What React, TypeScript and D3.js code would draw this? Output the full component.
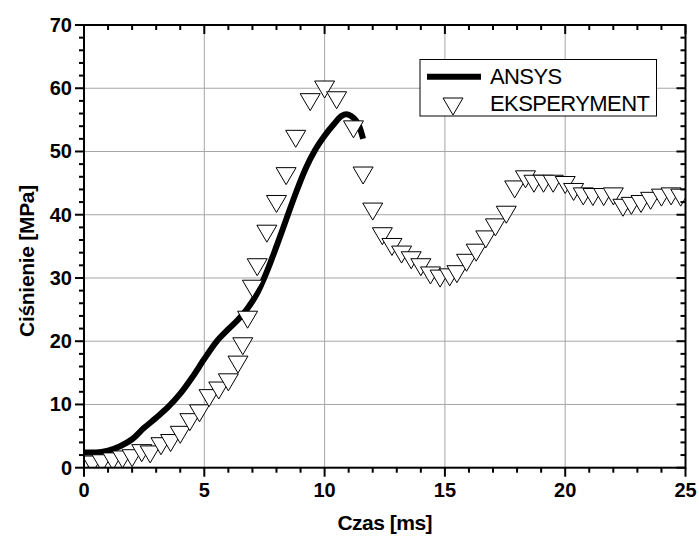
import React from "react";
import * as d3 from "d3";

// time [ms] and pressure [MPa]
const ansysTime = [0, 0.5, 1.0, 1.5, 2.0, 2.5, 3.0, 3.5, 4.0, 4.5, 5.0, 5.5, 6.0, 6.4, 6.8, 7.2, 7.6, 8.0, 8.4, 8.8, 9.2, 9.6, 10.0, 10.4, 10.7, 10.9, 11.1, 11.3, 11.45, 11.6];
const ansysPressure = [2.4, 2.4, 2.7, 3.4, 4.5, 6.3, 7.9, 9.6, 11.7, 14.3, 17.2, 19.9, 21.9, 23.4, 25.2, 27.6, 31.0, 35.0, 39.2, 43.4, 47.2, 50.2, 52.5, 54.4, 55.6, 55.9, 55.6, 54.9, 53.9, 52.0];

const expTime = [0.0, 0.35, 0.75, 1.2, 1.6, 2.0, 2.4, 2.75, 3.2, 3.6, 4.0, 4.4, 4.8, 5.2, 5.6, 6.0, 6.4, 6.6, 6.8, 7.0, 7.2, 7.6, 8.0, 8.4, 8.8, 9.4, 10.0, 10.5, 11.2, 11.6, 12.0, 12.4, 12.8, 13.2, 13.6, 14.0, 14.4, 14.8, 15.2, 15.5, 15.9, 16.3, 16.7, 17.1, 17.55, 17.9, 18.35, 18.7, 19.1, 19.5, 20.0, 20.35, 20.75, 21.15, 21.6, 22.0, 22.4, 22.75, 23.15, 23.55, 24.0, 24.4, 24.8];
const expPressure = [0.4, 0.5, 0.7, 1.0, 1.3, 1.5, 2.3, 2.1, 3.4, 3.9, 5.2, 7.2, 8.6, 11.0, 12.2, 13.5, 16.3, 19.2, 23.4, 28.3, 31.7, 37.0, 41.7, 46.1, 52.0, 57.8, 59.8, 58.1, 53.5, 46.2, 40.5, 36.6, 34.9, 33.7, 32.8, 31.7, 30.4, 29.9, 30.1, 30.6, 32.4, 34.0, 36.1, 38.0, 40.0, 44.0, 45.6, 44.9, 44.9, 44.9, 44.7, 43.6, 42.9, 42.8, 42.8, 42.9, 41.1, 41.4, 41.7, 42.2, 42.7, 42.9, 42.7];

const xTicks = [0, 5, 10, 15, 20, 25];
const yTicks = [0, 10, 20, 30, 40, 50, 60, 70];
const legendLabels = ["ANSYS", "EKSPERYMENT"];

const W = 699;
const H = 536;
const left = 84;
const right = 685.5;
const top = 25;
const bottom = 467.7;
const font = "'Liberation Sans', Arial, sans-serif";

// inverted triangle marker centred on (x, y)
const tri = (x: number, y: number) =>
  `M${x - 10},${y - 8.5}L${x + 10},${y - 8.5}L${x},${y + 8.5}Z`;

export default function App() {
  const x = d3.scaleLinear().domain([0, 25]).range([left, right]);
  const y = d3.scaleLinear().domain([0, 70]).range([bottom, top]);

  const line = d3
    .line<number>()
    .x((_, i) => x(ansysTime[i]))
    .y((d) => y(d))
    .curve(d3.curveMonotoneX);

  const xMinor = d3.range(0, 26, 1).filter((v) => v % 5 !== 0);
  const yMinor = d3.range(0, 71, 2).filter((v) => v % 10 !== 0);

  return (
    <svg width={W} height={H} style={{ position: "absolute", left: 0, top: 0 }} fontFamily={font}>
      <rect width={W} height={H} fill="#fff" />
      <defs>
        <clipPath id="plot">
          <rect x={left} y={top} width={right - left} height={bottom - top} />
        </clipPath>
      </defs>

      {/* grid */}
      <g stroke="#a6a6a6" strokeWidth={1}>
        {xTicks.slice(1, -1).map((t) => (
          <line key={"gx" + t} x1={x(t)} x2={x(t)} y1={top} y2={bottom} />
        ))}
        {yTicks.slice(1, -1).map((t) => (
          <line key={"gy" + t} x1={left} x2={right} y1={y(t)} y2={y(t)} />
        ))}
      </g>

      {/* data */}
      <g clipPath="url(#plot)">
        <path d={line(ansysPressure) || ""} fill="none" stroke="#000" strokeWidth={6} strokeLinejoin="round" />
        {expPressure.map((p, i) => (
          <path key={i} d={tri(x(expTime[i]), y(p))} fill="#fff" stroke="#000" strokeWidth={1} />
        ))}
      </g>

      {/* ticks */}
      <g stroke="#000" strokeWidth={2}>
        {xTicks.map((t) => (
          <g key={"xt" + t}>
            <line x1={x(t)} x2={x(t)} y1={bottom} y2={bottom + 9} />
            <line x1={x(t)} x2={x(t)} y1={top} y2={top + 9} />
          </g>
        ))}
        {xMinor.map((t) => (
          <g key={"xm" + t}>
            <line x1={x(t)} x2={x(t)} y1={bottom} y2={bottom + 5} />
            <line x1={x(t)} x2={x(t)} y1={top} y2={top + 5} />
          </g>
        ))}
        {yTicks.map((t) => (
          <g key={"yt" + t}>
            <line x1={left - 9} x2={left} y1={y(t)} y2={y(t)} />
            <line x1={right - 9} x2={right} y1={y(t)} y2={y(t)} />
          </g>
        ))}
        {yMinor.map((t) => (
          <g key={"ym" + t}>
            <line x1={left - 5} x2={left} y1={y(t)} y2={y(t)} />
            <line x1={right - 5} x2={right} y1={y(t)} y2={y(t)} />
          </g>
        ))}
      </g>

      {/* frame */}
      <rect x={left} y={top} width={right - left} height={bottom - top} fill="none" stroke="#000" strokeWidth={2} />

      {/* tick labels */}
      <g fontSize={20} fontWeight="bold" fill="#000">
        {xTicks.map((t) => (
          <text key={"xl" + t} x={x(t)} y={497} textAnchor="middle">
            {t}
          </text>
        ))}
        {yTicks.map((t) => (
          <text key={"yl" + t} x={72} y={y(t) + 7} textAnchor="end">
            {t}
          </text>
        ))}
      </g>

      {/* axis titles */}
      <text x={(left + right) / 2} y={530} textAnchor="middle" fontSize={21} fontWeight="bold" letterSpacing={-0.5}>
        Czas [ms]
      </text>
      <text
        transform="translate(34,261) rotate(-90)"
        textAnchor="middle"
        fontSize={21}
        fontWeight="bold"
        letterSpacing={-0.3}
      >
        Ciśnienie [MPa]
      </text>

      {/* legend */}
      <g>
        <rect x={420} y={59.5} width={236.5} height={56.5} fill="#fff" stroke="#000" strokeWidth={1} />
        <line x1={427} x2={481} y1={76.7} y2={76.7} stroke="#000" strokeWidth={6} />
        <path d={tri(453, 106.5)} fill="#fff" stroke="#000" strokeWidth={1} />
        <text x={490} y={83.5} fontSize={22} letterSpacing={-0.6}>
          {legendLabels[0]}
        </text>
        <text x={490} y={111} fontSize={22} letterSpacing={-0.6}>
          {legendLabels[1]}
        </text>
      </g>
    </svg>
  );
}
